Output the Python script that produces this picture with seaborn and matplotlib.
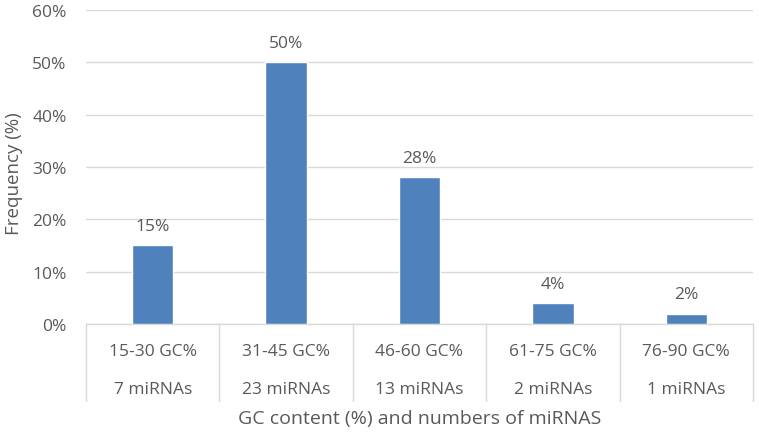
import seaborn as sns
import matplotlib.pyplot as plt
import matplotlib.transforms as mtransforms
from matplotlib.ticker import PercentFormatter

gc_ranges = ['15-30 GC%', '31-45 GC%', '46-60 GC%', '61-75 GC%', '76-90 GC%']
mirna_counts = ['7 miRNAs', '23 miRNAs', '13 miRNAs', '2 miRNAs', '1 miRNAs']
frequency = [15, 50, 28, 4, 2]
y_ticks = [0, 10, 20, 30, 40, 50, 60]

sns.set_style('white')
plt.rcParams['font.family'] = ['Open Sans', 'DejaVu Sans']
grey = '#595959'
grid_c = '#D9D9D9'

fig = plt.figure(figsize=(7.59, 4.35), dpi=100)
ax = fig.add_axes([0.1133, 0.2529, 0.8788, 0.7218])

sns.barplot(x=gc_ranges, y=frequency, color='#4F81BD', saturation=1,
            width=0.31, ax=ax, zorder=3)
ax.set_xlim(-0.5, len(gc_ranges) - 0.5)
ax.set_ylim(0, 60)
ax.set_yticks(y_ticks)
ax.yaxis.set_major_formatter(PercentFormatter(decimals=0))
ax.grid(axis='y', color=grid_c, linewidth=1, zorder=0)
for s in ax.spines.values():
    s.set_visible(False)
ax.tick_params(axis='y', length=0, pad=14, labelsize=12.5, labelcolor=grey)
ax.set_xticks([])

for c in ax.containers:
    ax.bar_label(c, labels=[f'{v}%' for v in frequency], padding=8,
                 fontsize=12.5, color=grey)

# category table below the axis
trans = mtransforms.blended_transform_factory(ax.transData, ax.transAxes)
ax.plot([-0.5, len(gc_ranges) - 0.5], [0, 0], transform=trans, color=grid_c,
        lw=1, clip_on=False, zorder=2)
for i in range(len(gc_ranges) + 1):
    ax.plot([i - 0.5, i - 0.5], [0, -0.245], transform=trans, color=grid_c,
            lw=1, clip_on=False)
for i, (g, m) in enumerate(zip(gc_ranges, mirna_counts)):
    ax.text(i, -0.086, g, transform=trans, ha='center', va='center',
            fontsize=12.5, color=grey)
    ax.text(i, -0.207, m, transform=trans, ha='center', va='center',
            fontsize=12.5, color=grey)

ax.text(0.5, -0.30, 'GC content (%) and numbers of miRNAS', transform=ax.transAxes,
        ha='center', va='center', fontsize=14, color=grey)
fig.text(0.019, 0.6, 'Frequency (%)', rotation=90, ha='center', va='center',
         fontsize=13.5, color=grey)

fig.savefig('out.png', dpi=100)
